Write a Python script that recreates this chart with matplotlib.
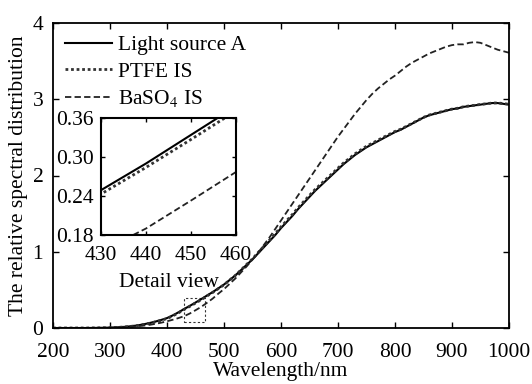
import numpy as np
import matplotlib
matplotlib.use("Agg")
import matplotlib.pyplot as plt
from matplotlib.patches import Rectangle

plt.rcParams['font.family'] = ['Liberation Serif', 'DejaVu Serif']
plt.rcParams['mathtext.fontset'] = 'stix'

wavelength = list(range(200, 1001, 10))

light_a = [0, 0, 0, 0, 0, 0, 0, 0.001, 0.002, 0.003,
           0.005, 0.008, 0.012, 0.018, 0.026, 0.036, 0.05, 0.066, 0.085, 0.106,
           0.13, 0.165, 0.205, 0.249, 0.29, 0.334, 0.378, 0.425, 0.47, 0.52,
           0.57, 0.63, 0.69, 0.76, 0.83, 0.9, 0.98, 1.06, 1.14, 1.22,
           1.31, 1.39, 1.47, 1.56, 1.64, 1.72, 1.80, 1.87, 1.94, 2.01,
           2.08, 2.15, 2.21, 2.27, 2.32, 2.37, 2.41, 2.45, 2.49, 2.53,
           2.57, 2.60, 2.64, 2.68, 2.72, 2.76, 2.79, 2.81, 2.83, 2.85,
           2.87, 2.88, 2.90, 2.91, 2.92, 2.93, 2.94, 2.95, 2.95, 2.94, 2.93]

ptfe = [0, 0, 0, 0, 0, 0, 0, 0.001, 0.002, 0.003,
        0.004, 0.007, 0.011, 0.017, 0.024, 0.034, 0.047, 0.063, 0.081, 0.101,
        0.124, 0.158, 0.198, 0.243, 0.284, 0.327, 0.371, 0.419, 0.465, 0.516,
        0.567, 0.628, 0.69, 0.762, 0.835, 0.907, 0.99, 1.072, 1.155, 1.237,
        1.327, 1.408, 1.489, 1.578, 1.659, 1.739, 1.818, 1.888, 1.957, 2.026,
        2.097, 2.166, 2.225, 2.285, 2.335, 2.384, 2.423, 2.463, 2.502, 2.54,
        2.578, 2.607, 2.645, 2.684, 2.723, 2.762, 2.793, 2.813, 2.833, 2.852,
        2.871, 2.882, 2.901, 2.912, 2.921, 2.932, 2.941, 2.95, 2.952, 2.943, 2.935]

baso4 = [0, 0, 0, 0, 0, 0, 0, 0, 0.001, 0.002,
         0.003, 0.005, 0.008, 0.012, 0.017, 0.024, 0.032, 0.042, 0.055, 0.07,
         0.088, 0.108, 0.13, 0.155, 0.19, 0.233, 0.277, 0.33, 0.385, 0.45,
         0.51, 0.58, 0.65, 0.73, 0.81, 0.90, 0.99, 1.09, 1.19, 1.30,
         1.41, 1.52, 1.63, 1.74, 1.85, 1.96, 2.07, 2.18, 2.29, 2.40,
         2.51, 2.61, 2.71, 2.81, 2.90, 2.99, 3.07, 3.14, 3.20, 3.26,
         3.31, 3.37, 3.43, 3.48, 3.52, 3.56, 3.60, 3.63, 3.66, 3.69,
         3.71, 3.72, 3.72, 3.74, 3.75, 3.74, 3.71, 3.68, 3.65, 3.63, 3.61]

labels = ['Light source A', 'PTFE IS', 'BaSO$_4$ IS']
main_xticks = [200, 300, 400, 500, 600, 700, 800, 900, 1000]
main_yticks = [0, 1, 2, 3, 4]
inset_xticks = [430, 440, 450, 460]
inset_yticks = [0.18, 0.24, 0.30, 0.36]

FS = 15.5

fig = plt.figure(figsize=(5.32, 3.84), dpi=100)
ax = fig.add_axes([53/532, 1-328/384, (509-53)/532, (328-23)/384])

styles = [dict(color='black', lw=1.5, ls='-'),
          dict(color='#333333', lw=2.0, ls=(0, (1, 1))),
          dict(color='#222222', lw=1.3, ls=(0, (3.5, 1.8)))]
series = [light_a, ptfe, baso4]

for s, st, lb in zip(series, styles, labels):
    ax.plot(wavelength, s, label=lb, **st)

ax.set_xlim(200, 1000)
ax.set_ylim(0, 4)
ax.set_xticks(main_xticks)
ax.set_yticks(main_yticks)
ax.tick_params(direction='in', top=True, right=True, labelsize=FS, length=4.5, width=1)
ax.tick_params(axis='x', pad=11)
ax.tick_params(axis='y', pad=7)
for sp in ax.spines.values():
    sp.set_linewidth(1.3)
ax.set_xlabel('Wavelength/nm', fontsize=FS, labelpad=0)
ax.set_ylabel('The relative spectral distribution', fontsize=FS, labelpad=3)

leg = ax.legend(loc='upper left', bbox_to_anchor=((65-53)/456, 1-(35-23)/305),
                frameon=False, fontsize=FS, handlelength=2.2, handletextpad=0.25,
                labelspacing=0.3, borderaxespad=0, borderpad=0)

ax.add_patch(Rectangle((430, 0.08), 37, 0.31, fill=False, ec='#333333',
                       lw=0.8, ls=(0, (2, 2))))

axin = fig.add_axes([101/532, 1-235/384, (236-101)/532, (235-118)/384])
for s, st in zip(series, styles):
    axin.plot(wavelength, s, **st)
axin.set_xlim(430, 460)
axin.set_ylim(0.18, 0.36)
axin.set_xticks(inset_xticks)
axin.set_yticks(inset_yticks)
axin.set_yticklabels(['%.2f' % v for v in inset_yticks])
axin.tick_params(direction='in', top=True, right=True, labelsize=FS, length=3, width=1)
axin.tick_params(axis='x', pad=8)
axin.tick_params(axis='y', pad=5)
for sp in axin.spines.values():
    sp.set_linewidth(1.5)
axin.set_xlabel('Detail view', fontsize=FS, labelpad=6)

fig.savefig('out.png', dpi=100)
